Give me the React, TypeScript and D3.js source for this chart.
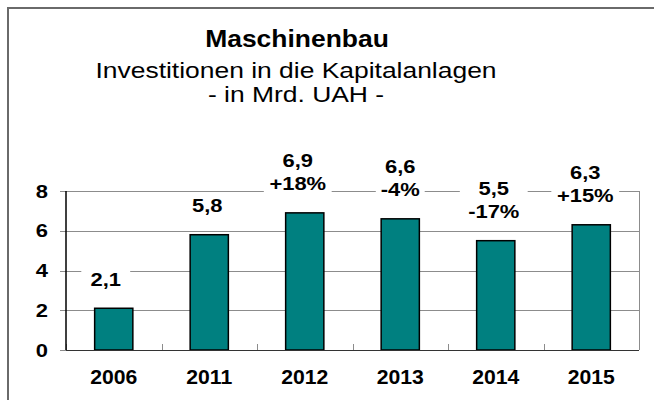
import React from "react";
import * as d3 from "d3";

// chart data
const years = ["2006", "2011", "2012", "2013", "2014", "2015"];
const values = [2.1, 5.8, 6.9, 6.6, 5.5, 6.3];
const valueLabels = ["2,1", "5,8", "6,9", "6,6", "5,5", "6,3"];
const changeLabels = ["", "", "+18%", "-4%", "-17%", "+15%"];
const yTicks = [0, 2, 4, 6, 8];

const titleLines = ["Maschinenbau", "Investitionen in die Kapitalanlagen", "- in Mrd. UAH -"];

// small manual shifts of the data labels, as in the original
const labelDx = [-8, -2, -7, 0, -2, -6];

const W = 654;
const H = 400;
const plot = { left: 66, right: 639, top: 191, bottom: 350 };
const FONT = "'Liberation Sans', Arial, Helvetica, sans-serif";
// the source picture is stretched sideways, so the text is too
const stretched = (cx: number, cy: number, sx: number) => `translate(${cx},${cy}) scale(${sx},1)`;

const App = () => {
  const x = d3.scaleBand().domain(years).range([plot.left, plot.right]).paddingInner(0).paddingOuter(0);
  const y = d3.scaleLinear().domain([0, 8]).range([plot.bottom, plot.top]);
  const barW = x.bandwidth() * 0.4;
  const snap = (v: number) => Math.round(v) + 0.5;

  return (
    <svg
      width={W}
      height={H}
      style={{ position: "absolute", left: 0, top: 0, background: "#fff" }}
      fontFamily={FONT}
    >
      <rect x={0} y={0} width={W} height={H} fill="#fff" />
      {/* outer frame */}
      <rect x={8} y={8} width={W + 20} height={H + 20} fill="none" stroke="#6a6a6a" strokeWidth={2} />

      {/* titles */}
      <g textAnchor="middle" fill="#000">
        <text transform={stretched(297, 47, 1.15)} fontSize={23} fontWeight="bold">{titleLines[0]}</text>
        <text transform={stretched(296, 78, 1.23)} fontSize={21.5}>{titleLines[1]}</text>
        <text transform={stretched(296, 102, 1.23)} fontSize={21.5}>{titleLines[2]}</text>
      </g>

      {/* grid lines and top border */}
      {yTicks.filter((t) => t > 0).map((t) => (
        <line key={t} x1={plot.left} x2={plot.right} y1={snap(y(t))} y2={snap(y(t))} stroke="#8c8c8c" strokeWidth={1} />
      ))}
      {/* right border */}
      <line x1={plot.right + 0.5} x2={plot.right + 0.5} y1={y(8)} y2={y(0)} stroke="#8c8c8c" strokeWidth={1} />

      {/* y ticks */}
      {yTicks.map((t) => (
        <g key={t}>
          <line x1={plot.left - 6} x2={plot.left} y1={snap(y(t))} y2={snap(y(t))} stroke="#8c8c8c" />
          <text transform={stretched(48, y(t) + 6.5, 1.22)} textAnchor="end" fontSize={18} fontWeight="bold">
            {t}
          </text>
        </g>
      ))}

      {/* x ticks */}
      {years.map((yr) => (
        <line key={yr} x1={snap(x(yr)!)} x2={snap(x(yr)!)} y1={plot.bottom} y2={plot.bottom - 6} stroke="#8c8c8c" />
      ))}

      {/* bars */}
      {years.map((yr, i) => (
        <rect
          key={yr}
          x={x(yr)! + (x.bandwidth() - barW) / 2}
          y={y(values[i])}
          width={barW}
          height={y(0) - y(values[i])}
          fill="#008080"
          stroke="#000"
          strokeWidth={1.5}
        />
      ))}

      {/* axes */}
      <line x1={plot.left} x2={plot.left} y1={y(8)} y2={y(0)} stroke="#000" strokeWidth={1.5} />
      <line x1={plot.left} x2={plot.right} y1={y(0) + 0.5} y2={y(0) + 0.5} stroke="#333" strokeWidth={1.2} />

      {/* data labels */}
      {years.map((yr, i) => {
        const cx = x(yr)! + x.bandwidth() / 2 + labelDx[i];
        const lines = changeLabels[i] ? [valueLabels[i], changeLabels[i]] : [valueLabels[i]];
        const lastBase = y(values[i]) - 22.5;
        const firstBase = lastBase - (lines.length - 1) * 23.5;
        const longest = d3.max(lines, (l) => l.length)!;
        const boxW = longest * 18 * 0.6 * 1.2 + (longest < 4 ? 10 : 16);
        return (
          <g key={yr}>
            <rect x={cx - boxW / 2} y={firstBase - 18} width={boxW} height={lastBase - firstBase + 24} fill="#fff" />
            {lines.map((l, j) => (
              <text
                key={j}
                transform={stretched(cx, firstBase + j * 23.5, 1.22)}
                textAnchor="middle"
                fontSize={18}
                fontWeight="bold"
              >
                {l}
              </text>
            ))}
          </g>
        );
      })}

      {/* category labels */}
      {years.map((yr) => (
        <text
          key={yr}
          transform={stretched(x(yr)! + x.bandwidth() / 2, 384, 1.06)}
          textAnchor="middle"
          fontSize={20}
          fontWeight="bold"
        >
          {yr}
        </text>
      ))}
    </svg>
  );
};

export default App;
